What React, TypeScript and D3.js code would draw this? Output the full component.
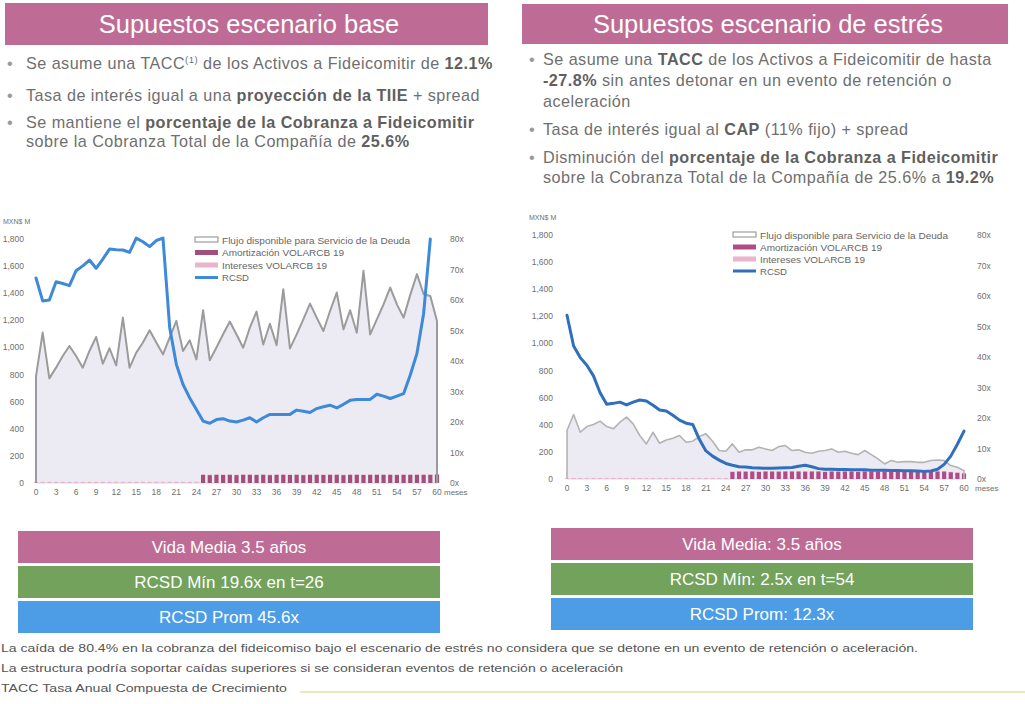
import React from "react";
import * as d3 from "d3";

// ---------- DATA ----------
const monthTicks = [0, 3, 6, 9, 12, 15, 18, 21, 24, 27, 30, 33, 36, 39, 42, 45, 48, 51, 54, 57, 60];
const leftTickValues = [0, 200, 400, 600, 800, 1000, 1200, 1400, 1600, 1800];
const leftTickLabels = ["0", "200", "400", "600", "800", "1,000", "1,200", "1,400", "1,600", "1,800"];
const rightTickValues = [0, 10, 20, 30, 40, 50, 60, 70, 80];
const rightTickLabels = ["0x", "10x", "20x", "30x", "40x", "50x", "60x", "70x", "80x"];
const legendLabels = [
  "Flujo disponible para Servicio de la Deuda",
  "Amortización VOLARCB 19",
  "Intereses VOLARCB 19",
  "RCSD",
];
const legendWidths = [188, 122, 105, 27];

// Base scenario (t = 0..60)
const baseFlujo = [789, 1110, 772, 851, 937, 1011, 937, 851, 974, 1077, 880, 994, 868, 1220, 851, 962, 1036, 1127, 1036, 949,
  1073, 1196, 974, 1053, 912, 1275, 905, 999, 1097, 1191, 1096, 998, 1146, 1264, 1022, 1175, 1017, 1430, 993, 1096,
  1207, 1323, 1220, 1121, 1269, 1405, 1133, 1274, 1109, 1565, 1096, 1207, 1318, 1442, 1318, 1220, 1388, 1541, 1393, 1380, 1195];
const baseRcsd = [67.2, 59.7, 60.0, 66.0, 65.4, 64.7, 69.6, 71.2, 73.1, 70.4, 73.4, 76.7, 76.5, 76.4, 75.6, 80.3, 79.1, 77.5, 79.5, 80.3,
  51.0, 38.9, 32.3, 27.9, 24.1, 20.3, 19.6, 20.8, 21.1, 20.3, 20.0, 20.6, 21.4, 20.0, 21.4, 22.5, 22.5, 22.5, 22.5, 23.9,
  23.5, 23.1, 24.4, 25.0, 25.5, 24.6, 25.8, 27.1, 27.4, 27.4, 27.4, 29.1, 28.5, 27.7, 28.5, 29.3, 35.4, 42.5, 55.6, 80.0];
const baseAmortStart = 25;
const baseAmort = [60, 58, 60, 59, 60, 58, 60, 60, 59, 60, 58, 60, 60, 59, 60, 58, 60, 60, 59, 60, 60, 58, 60, 60, 59, 60, 60, 60, 60, 59, 60, 60, 60, 60, 60, 62];
const baseInteres = [9, 9, 9, 9, 9, 9, 9, 9, 9, 9, 9, 9, 9, 9, 9, 9, 9, 9, 9, 9, 9, 9, 9, 9, 9,
  4, 4, 4, 4, 4, 4, 4, 4, 4, 4, 4, 4, 4, 4, 4, 4, 4, 4, 4, 4, 4, 4, 4, 4, 4, 4, 4, 4, 4, 4, 4, 4, 4, 4, 4, 4];

// Stress scenario (t = 0..60)
const stressFlujo = [358, 476, 345, 387, 402, 427, 387, 370, 419, 456, 407, 321, 259, 345, 264, 288, 301, 321, 271, 279,
  313, 333, 279, 210, 205, 259, 197, 215, 215, 234, 222, 210, 239, 247, 210, 215, 197, 190, 205, 210,
  222, 197, 205, 190, 180, 210, 180, 148, 111, 136, 123, 128, 128, 123, 123, 136, 140, 136, 99, 86, 62];
const stressRcsd = [53.7, 43.6, 39.8, 37.3, 33.8, 28.3, 24.5, 24.8, 25.2, 24.3, 25.2, 25.9, 25.6, 24.2, 22.6, 22.3, 20.9, 19.3, 18.3, 17.9,
  13.0, 9.2, 7.5, 6.2, 5.1, 4.5, 4.0, 3.9, 3.7, 3.6, 3.5, 3.5, 3.6, 3.7, 3.8, 4.2, 4.5, 4.0, 3.4, 3.2,
  3.2, 3.1, 3.1, 3.0, 3.0, 3.0, 2.9, 2.9, 2.9, 2.8, 2.8, 2.7, 2.7, 2.6, 2.5, 2.6, 3.2, 4.8, 7.5, 11.4, 15.7];
const stressAmortStart = 25;
const stressAmort = [52, 55, 54, 55, 52, 55, 55, 54, 55, 55, 55, 54, 55, 55, 52, 55, 54, 55, 55, 52, 55, 55, 54, 55, 55, 55, 55, 54, 55, 55, 55, 55, 55, 50, 45, 40];
const stressInteres = [8, 8, 8, 8, 8, 8, 8, 8, 8, 8, 8, 8, 8, 8, 8, 8, 8, 8, 8, 8, 8, 8, 8, 8, 8,
  4, 4, 4, 4, 4, 4, 4, 4, 4, 4, 4, 4, 4, 4, 4, 4, 4, 4, 4, 4, 4, 4, 4, 4, 4, 4, 4, 4, 4, 4, 4, 4, 4, 4, 4, 4];

const baseBoxes = ["Vida Media  3.5 años", "RCSD Mín  19.6x en t=26", "RCSD Prom  45.6x"];
const stressBoxes = ["Vida Media: 3.5 años", "RCSD Mín: 2.5x en t=54", "RCSD Prom: 12.3x"];
const footnotes = [
  "La caída de 80.4% en la cobranza del fideicomiso bajo el escenario de estrés no considera que se detone en un evento de retención o aceleración.",
  "La estructura podría soportar caídas superiores si se consideran eventos de retención o aceleración",
  "TACC  Tasa Anual Compuesta de Crecimiento",
];

// ---------- STYLE ----------
const FONT = "'Liberation Sans', Arial, sans-serif";
const PINK = "#be6c95";
const GREEN = "#72a25c";
const BLUE = "#4c9de6";
const TXT = "#6f6f6f";

type ChartProps = {
  x0: number; x1: number; y0: number; y1: number;
  flujo: number[]; rcsd: number[]; amort: number[]; amortStart: number; interes: number[];
  rcsdColor: string; amortColor: string; flujoStroke: string; flujoWidth: number;
  yLabelEnd: number; rightLabelX: number; unitX: number; unitY: number;
  legendX: number; legendY: number; legendStep: number; mesesX: number;
};

function Chart(p: ChartProps) {
  const x = d3.scaleLinear().domain([0, 60]).range([p.x0, p.x1]);
  const yL = d3.scaleLinear().domain([0, 1800]).range([p.y0, p.y1]);
  const yR = d3.scaleLinear().domain([0, 80]).range([p.y0, p.y1]);
  const pts: [number, number][] = [[0, 0], ...p.flujo.map((v, i) => [i, v] as [number, number]), [60, 0]];
  const area = d3.area<[number, number]>().x(d => x(d[0])).y0(yL(0)).y1(d => yL(d[1]));
  const line = d3.line<[number, number]>().x(d => x(d[0])).y(d => yL(d[1]));
  const rline = d3.line<number>().x((d, i) => x(i)).y(d => yR(d));
  const bw = 4.2;
  return (
    <g fontFamily={FONT}>
      <path d={area(pts) || ""} fill="#ecebf3" />
      <line x1={x(0)} x2={x(60)} y1={yL(0)} y2={yL(0)} stroke="#d8d8d8" strokeWidth={1} />
      {p.interes.map((v, i) => {
        const a = i >= p.amortStart ? p.amort[i - p.amortStart] : 0;
        return (
          <rect key={"i" + i} x={x(i) - bw / 2} width={bw} y={yL(a + v)} height={yL(a) - yL(a + v)} fill="#e9b4cc" />
        );
      })}
      {p.amort.map((v, k) => {
        const t = k + p.amortStart;
        return <rect key={"a" + k} x={x(t) - bw / 2} width={bw} y={yL(v)} height={yL(0) - yL(v)} fill={p.amortColor} />;
      })}
      <path d={line(pts) || ""} fill="none" stroke={p.flujoStroke} strokeWidth={p.flujoWidth} strokeLinejoin="round" />
      <path d={rline(p.rcsd) || ""} fill="none" stroke={p.rcsdColor} strokeWidth={3} strokeLinejoin="round" strokeLinecap="round" />
      {/* left axis labels */}
      <text x={p.unitX} y={p.unitY} fontSize={7} fill={TXT}>MXN$ M</text>
      {leftTickValues.map((v, i) => (
        <text key={"l" + v} x={p.yLabelEnd} y={yL(v) + 3} fontSize={8.5} fill={TXT} textAnchor="end">{leftTickLabels[i]}</text>
      ))}
      {rightTickValues.map((v, i) => (
        <text key={"r" + v} x={p.rightLabelX} y={yR(v) + 3} fontSize={8.5} fill={TXT}>{rightTickLabels[i]}</text>
      ))}
      {monthTicks.map(t => (
        <text key={"m" + t} x={x(t)} y={p.y0 + 12} fontSize={8.5} fill={TXT} textAnchor="middle">{t}</text>
      ))}
      <text x={p.mesesX} y={p.y0 + 12} fontSize={8} fill={TXT}>meses</text>
      {/* legend */}
      <g fontSize={9} fill="#666">
        <rect x={p.legendX} y={p.legendY - 3} width={23} height={5} fill="#fff" stroke="#8a8a8a" strokeWidth={1} />
        <rect x={p.legendX} y={p.legendY + p.legendStep - 2.5} width={23} height={5} fill={p.amortColor} />
        <rect x={p.legendX} y={p.legendY + 2 * p.legendStep - 2.5} width={23} height={5} fill="#e9b4cc" />
        <line x1={p.legendX} x2={p.legendX + 23} y1={p.legendY + 3 * p.legendStep} y2={p.legendY + 3 * p.legendStep} stroke={p.rcsdColor} strokeWidth={3} />
        {legendLabels.map((l, i) => (
          <text key={l} x={p.legendX + 27} y={p.legendY + i * p.legendStep + 3.5} textLength={legendWidths[i]} lengthAdjust="spacingAndGlyphs">{l}</text>
        ))}
      </g>
    </g>
  );
}

function Boxes({ x, y, w, h, gap, labels }: { x: number; y: number; w: number; h: number; gap: number; labels: string[] }) {
  const cols = [PINK, GREEN, BLUE];
  return (
    <g fontFamily={FONT}>
      {labels.map((l, i) => (
        <g key={l}>
          <rect x={x} y={y + i * (h + gap)} width={w} height={h} fill={cols[i]} />
          <text x={x + w / 2} y={y + i * (h + gap) + h / 2 + 6} fontSize={17} fill="#fff" textAnchor="middle">{l}</text>
        </g>
      ))}
    </g>
  );
}

export default function App() {
  const bold = { fontWeight: 700 as const, fill: "#5f5f5f" };
  return (
    <svg width={1025} height={704} style={{ position: "absolute", left: 0, top: 0, background: "#fff" }} fontFamily={FONT}>
      {/* Headers */}
      <rect x={5} y={3} width={483} height={42} fill={PINK} />
      <text x={249} y={33} fontSize={25.5} fill="#fff" textAnchor="middle">Supuestos escenario base</text>
      <rect x={522} y={4} width={486} height={40} fill={PINK} />
      <text x={768} y={33} fontSize={25.5} fill="#fff" textAnchor="middle">Supuestos escenario de estrés</text>

      {/* Left bullets */}
      <g fontSize={16.2} fill={TXT} letterSpacing={0.45}>
        <text x={7} y={69} fill="#999">•</text>
        <text x={26} y={69}>Se asume una TACC<tspan fontSize={9.5} dy={-6}>(1)</tspan><tspan dy={6}> de los Activos a Fideicomitir de </tspan><tspan {...bold}>12.1%</tspan></text>
        <text x={7} y={101} fill="#999">•</text>
        <text x={26} y={101}>Tasa de interés igual a una <tspan {...bold}>proyección de la TIIE</tspan> + spread</text>
        <text x={7} y={128} fill="#999">•</text>
        <text x={26} y={128}>Se mantiene el <tspan {...bold}>porcentaje de la Cobranza a Fideicomitir</tspan></text>
        <text x={26} y={147}>sobre la Cobranza Total de la Compañía de <tspan {...bold}>25.6%</tspan></text>
      </g>

      {/* Right bullets */}
      <g fontSize={16.2} fill={TXT} letterSpacing={0.45}>
        <text x={529} y={65} fill="#999">•</text>
        <text x={543} y={65}>Se asume una <tspan {...bold}>TACC</tspan> de los Activos a Fideicomitir de hasta</text>
        <text x={543} y={86}><tspan {...bold}>-27.8%</tspan> sin antes detonar en un evento de retención o</text>
        <text x={543} y={107}>aceleración</text>
        <text x={529} y={135} fill="#999">•</text>
        <text x={543} y={135}>Tasa de interés igual al <tspan {...bold}>CAP</tspan> (11% fijo) + spread</text>
        <text x={529} y={163} fill="#999">•</text>
        <text x={543} y={163}>Disminución del <tspan {...bold}>porcentaje de la Cobranza a Fideicomitir</tspan></text>
        <text x={543} y={183}>sobre la Cobranza Total de la Compañía de 25.6% a <tspan {...bold}>19.2%</tspan></text>
      </g>

      <Chart x0={36} x1={437} y0={483} y1={239} flujo={baseFlujo} rcsd={baseRcsd} amort={baseAmort} amortStart={baseAmortStart}
        interes={baseInteres} rcsdColor="#3e89d8" amortColor="#a24f7b" flujoStroke="#9b9b9b" flujoWidth={2}
        yLabelEnd={24} rightLabelX={450} unitX={3} unitY={224} legendX={195} legendY={240} legendStep={12.5} mesesX={444} />
      <Chart x0={567} x1={964} y0={479} y1={235} flujo={stressFlujo} rcsd={stressRcsd} amort={stressAmort} amortStart={stressAmortStart}
        interes={stressInteres} rcsdColor="#2f6fbc" amortColor="#b24a86" flujoStroke="#b3b3b3" flujoWidth={1.6}
        yLabelEnd={553} rightLabelX={977} unitX={529} unitY={220} legendX={733} legendY={235} legendStep={12} mesesX={975} />

      <Boxes x={18} y={531} w={422} h={32} gap={3} labels={baseBoxes} />
      <Boxes x={551} y={528} w={422} h={32} gap={3} labels={stressBoxes} />

      <line x1={300} x2={1025} y1={692} y2={692} stroke="#f2dca4" strokeWidth={1.5} />
      <g fontSize={11.5} fill="#555">
        <text x={1} y={652} textLength={917} lengthAdjust="spacingAndGlyphs">{footnotes[0]}</text>
        <text x={1} y={672} textLength={622} lengthAdjust="spacingAndGlyphs">{footnotes[1]}</text>
        <text x={1} y={692} textLength={286} lengthAdjust="spacingAndGlyphs">{footnotes[2]}</text>
      </g>
    </svg>
  );
}
